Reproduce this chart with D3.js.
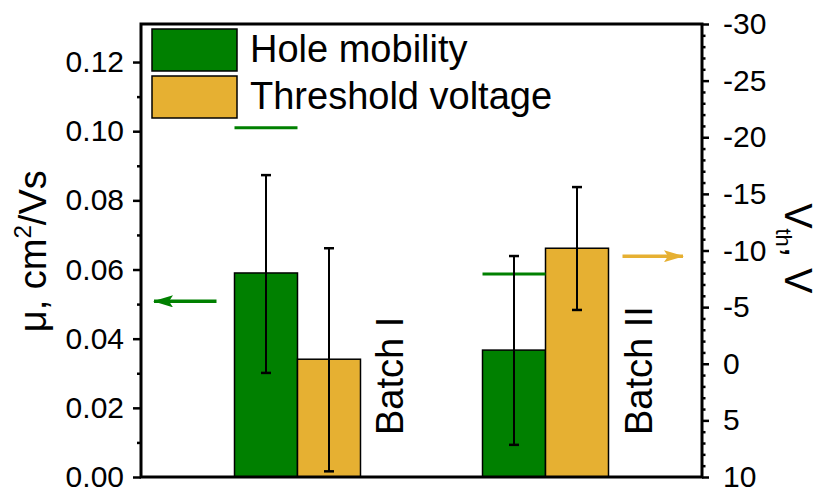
<!DOCTYPE html>
<html>
<head>
<meta charset="utf-8">
<script src="https://cdn.jsdelivr.net/npm/d3@7"></script>
<style>
  body { margin: 0; background: #fff; }
  svg text { font-family: "Liberation Sans", Arial, sans-serif; fill: #000; }
</style>
</head>
<body>
<div id="chart"></div>
<script>
// data
var batches = ["Batch I", "Batch II"];
var mobility = [0.059, 0.0367];          // cm2/Vs
var mobilityErrLo = [0.0301, 0.0093];
var mobilityErrHi = [0.0873, 0.0639];
var mobilityBest = [0.101, 0.0587];      // green marker lines
var vth = [-0.4, -10.2];                 // V
var vthErrLo = [9.5, -4.75];
var vthErrHi = [-10.2, -15.6];
var leftTicks = [0, 0.02, 0.04, 0.06, 0.08, 0.10, 0.12];
var rightTicks = [-30, -25, -20, -15, -10, -5, 0, 5, 10];

var green = "#008000", gold = "#e6b032";

var W = 822, H = 497;
var margin = {top: 24, right: 120, bottom: 20, left: 141};
var width = W - margin.left - margin.right,
    height = H - margin.top - margin.bottom;

var svg = d3.select("#chart").append("svg")
    .attr("width", W)
    .attr("height", H);

var g = svg.append("g")
    .attr("transform", "translate(" + margin.left + "," + margin.top + ")");

// scales
var x = d3.scaleBand()
    .domain(batches)
    .range([0, width])
    .paddingInner(0.492)
    .paddingOuter(0.377);
var xs = d3.scaleBand()
    .domain(["mu", "vth"])
    .range([0, x.bandwidth()]);
var yL = d3.scaleLinear().domain([0, 0.131]).range([height, 0]);
var yR = d3.scaleLinear().domain([10, -30]).range([height, 0]);

// arrow heads
var defs = svg.append("defs");
[["arrG", green], ["arrY", gold]].forEach(function(a) {
  defs.append("marker")
      .attr("id", a[0])
      .attr("viewBox", "0 0 20 12")
      .attr("refX", 19).attr("refY", 6)
      .attr("markerWidth", 20).attr("markerHeight", 12)
      .attr("markerUnits", "userSpaceOnUse")
      .attr("orient", "auto")
    .append("path")
      .attr("d", "M0,0 L20,6 L0,12 L4,6 Z")
      .attr("fill", a[1]);
});

// bars
var grp = g.selectAll(".batch")
    .data(batches)
  .enter().append("g")
    .attr("class", "batch")
    .attr("transform", function(d) { return "translate(" + x(d) + ",0)"; });

grp.append("rect")
    .attr("x", xs("mu"))
    .attr("y", function(d, i) { return yL(mobility[i]); })
    .attr("width", xs.bandwidth())
    .attr("height", function(d, i) { return yL(0) - yL(mobility[i]); })
    .attr("fill", green)
    .attr("stroke", "#000")
    .attr("stroke-width", 1.5);

grp.append("rect")
    .attr("x", xs("vth"))
    .attr("y", function(d, i) { return yR(vth[i]); })
    .attr("width", xs.bandwidth())
    .attr("height", function(d, i) { return yR(10) - yR(vth[i]); })
    .attr("fill", gold)
    .attr("stroke", "#000")
    .attr("stroke-width", 1.5);

// best mobility lines
grp.append("line")
    .attr("x1", xs("mu"))
    .attr("x2", xs("mu") + xs.bandwidth())
    .attr("y1", function(d, i) { return yL(mobilityBest[i]); })
    .attr("y2", function(d, i) { return yL(mobilityBest[i]); })
    .attr("stroke", green)
    .attr("stroke-width", 3);

// error bars
function errorBar(sel, cx, lo, hi) {
  var cap = 5;
  sel.append("line")
      .attr("x1", cx).attr("x2", cx)
      .attr("y1", lo).attr("y2", hi)
      .attr("stroke", "#000").attr("stroke-width", 2);
  [lo, hi].forEach(function(yy) {
    sel.append("line")
        .attr("x1", cx - cap).attr("x2", cx + cap)
        .attr("y1", yy).attr("y2", yy)
        .attr("stroke", "#000").attr("stroke-width", 2.5);
  });
}
grp.each(function(d, i) {
  var s = d3.select(this);
  errorBar(s, xs("mu") + xs.bandwidth() / 2, yL(mobilityErrLo[i]), yL(mobilityErrHi[i]));
  errorBar(s, xs("vth") + xs.bandwidth() / 2, yR(vthErrLo[i]), yR(vthErrHi[i]));
});

// batch labels
grp.append("text")
    .attr("transform", "translate(" + (x.bandwidth() + 43) + "," + (yR(6.3)) + ") rotate(-90)")
    .style("font-size", "38px")
    .text(function(d) { return d; });

// arrows pointing to the axes
g.append("line")
    .attr("x1", x("Batch I") - 18).attr("x2", 13)
    .attr("y1", yL(0.0508)).attr("y2", yL(0.0508))
    .attr("stroke", green).attr("stroke-width", 3.5)
    .attr("marker-end", "url(#arrG)");
g.append("line")
    .attr("x1", x("Batch II") + x.bandwidth() + 14).attr("x2", width - 19)
    .attr("y1", yR(-9.5)).attr("y2", yR(-9.5))
    .attr("stroke", gold).attr("stroke-width", 3.5)
    .attr("marker-end", "url(#arrY)");

// axes
g.append("g")
    .call(d3.axisLeft(yL).tickValues(leftTicks).tickSize(8).tickPadding(9)
      .tickFormat(d3.format(".2f")));
g.append("g")
    .call(d3.axisLeft(yL).tickValues(d3.range(0.01, 0.12, 0.02)).tickSize(4).tickFormat(""));

g.append("g")
    .attr("transform", "translate(" + width + ",0)")
    .call(d3.axisRight(yR).tickValues(rightTicks).tickSize(7).tickPadding(14)
      .tickFormat(function(d) { return String(d); }));
g.append("g")
    .attr("transform", "translate(" + width + ",0)")
    .call(d3.axisRight(yR).tickValues(d3.range(-30, 10, 1).filter(function(v) { return v % 5 !== 0; }))
      .tickSize(3.5).tickFormat(""));

g.selectAll(".domain").remove();
g.selectAll(".tick line").attr("stroke", "#000").attr("stroke-width", 2.5);
g.selectAll(".tick text").style("font-size", "30px").attr("fill", "#000");

// frame
g.append("rect")
    .attr("width", width)
    .attr("height", height)
    .attr("fill", "none")
    .attr("stroke", "#000")
    .attr("stroke-width", 3);

// axis titles
var lt = svg.append("text")
    .attr("transform", "translate(46," + (margin.top + yL(0.0653)) + ") rotate(-90)")
    .attr("text-anchor", "middle")
    .style("font-size", "38px");
lt.append("tspan").text("\u03bc, cm");
lt.append("tspan").attr("dy", -15).style("font-size", "24px").text("2");
lt.append("tspan").attr("dy", 15).text("/Vs");

var rt = svg.append("text")
    .attr("transform", "translate(785," + (margin.top + yR(-10.2)) + ") rotate(90)")
    .attr("text-anchor", "middle")
    .style("font-size", "38px");
rt.append("tspan").text("V");
rt.append("tspan").attr("dy", 9).style("font-size", "22px").text("th");
rt.append("tspan").attr("dy", -9).text(", V");

// legend
var legend = [["Hole mobility", green], ["Threshold voltage", gold]];
var lg = svg.append("g").attr("transform", "translate(152,29)");
var item = lg.selectAll("g")
    .data(legend)
  .enter().append("g")
    .attr("transform", function(d, i) { return "translate(0," + i * 47 + ")"; });
item.append("rect")
    .attr("width", 85).attr("height", 42)
    .attr("fill", function(d) { return d[1]; })
    .attr("stroke", "#000").attr("stroke-width", 1.5);
item.append("text")
    .attr("x", 98).attr("y", 33)
    .style("font-size", "38px")
    .text(function(d) { return d[0]; });
</script>
</body>
</html>
